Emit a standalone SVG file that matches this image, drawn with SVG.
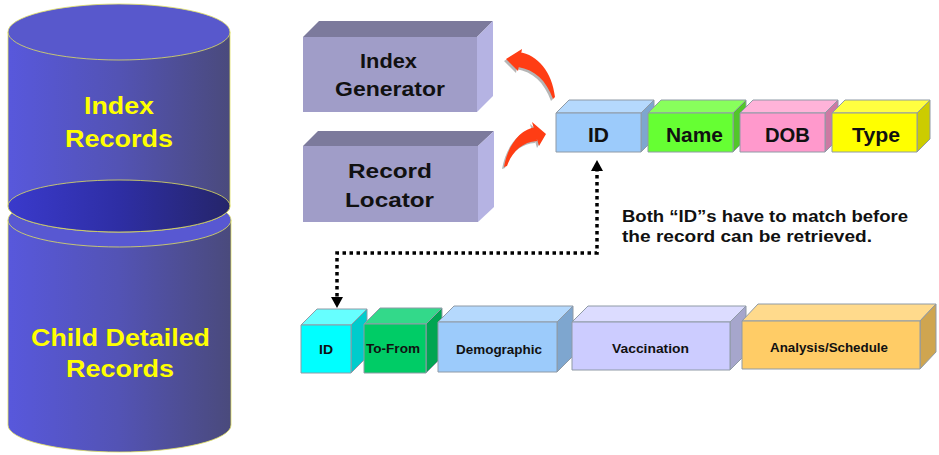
<svg xmlns="http://www.w3.org/2000/svg" width="939" height="455" viewBox="0 0 939 455">
<defs>
<linearGradient id="side" x1="0" y1="0" x2="1" y2="0">
<stop offset="0" stop-color="#5858dc"/>
<stop offset="0.5" stop-color="#5353b4"/>
<stop offset="1" stop-color="#4a4a7c"/>
</linearGradient>
<linearGradient id="dark" x1="0" y1="0" x2="1" y2="0">
<stop offset="0" stop-color="#3a3acc"/>
<stop offset="0.5" stop-color="#2e2ea4"/>
<stop offset="1" stop-color="#25256a"/>
</linearGradient>
</defs>
<style>
.cyl{stroke:#e0e060;stroke-width:0.8}
.ct{font-family:"Liberation Sans",Arial,sans-serif;font-weight:bold;font-size:24px;fill:#ffff00;text-anchor:middle}
.pf{fill:#a09dc8}
.pt{fill:#7c7a9c}
.pr{fill:#b5b3e3}
.bt{font-family:"Liberation Sans",Arial,sans-serif;font-weight:bold;font-size:21px;fill:#111;text-anchor:middle}
.st{font-family:"Liberation Sans",Arial,sans-serif;font-weight:bold;font-size:12px;fill:#111;text-anchor:middle}
.cb{stroke:#8f9aa6;stroke-width:1;stroke-linejoin:round}
.note{font-family:"Liberation Sans",Arial,sans-serif;font-weight:bold;font-size:16px;fill:#111}
.arr{fill:#ff3d14}
.sh{fill:#7a7a7a;opacity:0.55}
.dot{fill:none;stroke:#000;stroke-width:3.5;stroke-dasharray:3.5 3.5}
</style>

<g id="child-records">
<path class="cyl" d="M8,220 V425 A111.5,27 0 0 0 231,425 V220 Z" fill="url(#side)"/>
<ellipse class="cyl" cx="119.5" cy="220" rx="111.5" ry="27" fill="#5858d2"/>
<text class="ct" x="120.5" y="346" font-size="25" textLength="179" lengthAdjust="spacingAndGlyphs">Child Detailed</text>
<text class="ct" x="120" y="377" font-size="25" textLength="108" lengthAdjust="spacingAndGlyphs">Records</text>
</g>

<g id="index-records">
<path class="cyl" d="M8,32 V206 A111,26 0 0 0 230,206 V32 Z" fill="url(#side)"/>
<ellipse class="cyl" cx="119" cy="206" rx="111" ry="26" fill="url(#dark)"/>
<ellipse class="cyl" cx="119" cy="32" rx="111" ry="28" fill="#5858cc"/>
<text class="ct" x="119" y="114" textLength="70" lengthAdjust="spacingAndGlyphs">Index</text>
<text class="ct" x="119" y="147" textLength="108" lengthAdjust="spacingAndGlyphs">Records</text>
</g>

<g id="index-generator">
<polygon class="pt" points="303,37 319,21 493,21 477,37"/>
<polygon class="pr" points="477,37 493,21 493,96 477,112"/>
<rect class="pf" x="303" y="37" width="174" height="75"/>
<text class="bt" x="388.5" y="68" textLength="57" lengthAdjust="spacingAndGlyphs">Index</text>
<text class="bt" x="390" y="96" textLength="110" lengthAdjust="spacingAndGlyphs">Generator</text>
</g>

<g id="record-locator">
<polygon class="pt" points="303,146 318,131 494,131 478,146"/>
<polygon class="pr" points="478,146 494,131 494,207 478,222"/>
<rect class="pf" x="303" y="146" width="175" height="76"/>
<text class="bt" x="390" y="178" textLength="84" lengthAdjust="spacingAndGlyphs">Record</text>
<text class="bt" x="389.5" y="207" textLength="89" lengthAdjust="spacingAndGlyphs">Locator</text>
</g>

<g id="top-id">
<polygon class="cb" fill="#b5d9fd" points="556,113 569,100 654,100 641,113"/>
<polygon class="cb" fill="#7ea6cf" points="641,113 654,100 654,139 641,152"/>
<rect class="cb" fill="#9ccbfb" x="556" y="113" width="85" height="39"/>
<text class="bt" x="598.5" y="142" textLength="21" lengthAdjust="spacingAndGlyphs">ID</text>
</g>
<g id="top-name">
<polygon class="cb" fill="#88ff5c" points="648,113 661,100 746,100 733,113"/>
<polygon class="cb" fill="#52c62a" points="733,113 746,100 746,139 733,152"/>
<rect class="cb" fill="#66ff33" x="648" y="113" width="85" height="39"/>
<text class="bt" x="694.5" y="142" textLength="57" lengthAdjust="spacingAndGlyphs">Name</text>
</g>
<g id="top-dob">
<polygon class="cb" fill="#ffb3d9" points="740,113 753,100 838,100 825,113"/>
<polygon class="cb" fill="#cc7aa3" points="825,113 838,100 838,139 825,152"/>
<rect class="cb" fill="#ff99cc" x="740" y="113" width="85" height="39"/>
<text class="bt" x="787.5" y="142" textLength="45" lengthAdjust="spacingAndGlyphs">DOB</text>
</g>
<g id="top-type">
<polygon class="cb" fill="#ffff40" points="832,113 845,100 930,100 917,113"/>
<polygon class="cb" fill="#cccc00" points="917,113 930,100 930,139 917,152"/>
<rect class="cb" fill="#ffff00" x="832" y="113" width="85" height="39"/>
<text class="bt" x="876" y="142" textLength="48" lengthAdjust="spacingAndGlyphs">Type</text>
</g>

<g id="bottom-id">
<polygon class="cb" fill="#66ffff" points="301,325 317,309 367,309 351,325"/>
<polygon class="cb" fill="#00cccc" points="351,325 367,309 367,357 351,373"/>
<rect class="cb" fill="#00ffff" x="301" y="325" width="50" height="48"/>
<text class="st" x="326" y="354" font-size="13" textLength="14" lengthAdjust="spacingAndGlyphs">ID</text>
</g>
<g id="bottom-tofrom">
<polygon class="cb" fill="#33d98a" points="364,324 380,308 442,308 426,324"/>
<polygon class="cb" fill="#00a552" points="426,324 442,308 442,357 426,373"/>
<rect class="cb" fill="#00cc66" x="364" y="324" width="62" height="49"/>
<text class="st" x="393" y="353" font-size="13" textLength="54" lengthAdjust="spacingAndGlyphs">To-From</text>
</g>
<g id="bottom-demographic">
<polygon class="cb" fill="#b5d9fd" points="438,322 454,306 573,306 557,322"/>
<polygon class="cb" fill="#7ea6cf" points="557,322 573,306 573,356 557,372"/>
<rect class="cb" fill="#9ccbfb" x="438" y="322" width="119" height="50"/>
<text class="st" x="499" y="354" textLength="86" lengthAdjust="spacingAndGlyphs">Demographic</text>
</g>
<g id="bottom-vaccination">
<polygon class="cb" fill="#dcdcff" points="572,322 588,306 746,306 730,322"/>
<polygon class="cb" fill="#a6a6cc" points="730,322 746,306 746,354 730,370"/>
<rect class="cb" fill="#ccccff" x="572" y="322" width="158" height="48"/>
<text class="st" x="650.5" y="353" textLength="77" lengthAdjust="spacingAndGlyphs">Vaccination</text>
</g>
<g id="bottom-analysis">
<polygon class="cb" fill="#ffda8c" points="742,321 758,304 936,304 920,321"/>
<polygon class="cb" fill="#cfa550" points="920,321 936,304 936,352 920,369"/>
<rect class="cb" fill="#ffcc66" x="742" y="321" width="178" height="48"/>
<text class="st" x="829" y="352" textLength="118" lengthAdjust="spacingAndGlyphs">Analysis/Schedule</text>
</g>

<g id="note">
<text class="note" x="622" y="222" textLength="286" lengthAdjust="spacingAndGlyphs">Both “ID”s have to match before</text>
<text class="note" x="622" y="242" textLength="250" lengthAdjust="spacingAndGlyphs">the record can be retrieved.</text>
</g>

<g id="connectors">
<g transform="translate(-2,2)">
<path class="sh" d="M506,59 L522,49 L518,71 Z M519,52 C538,55 552,72 555,97 L553,99 C546,80 535,70 518,67 Z"/>
<path class="sh" d="M546,134 L532,122 L539,146 Z M536,127 C520,129 508,145 504,167 L507,166 C512,152 522,142 537,141 Z"/>
</g>
<path class="arr" d="M506,59 L522,49 L518,71 Z M519,52 C538,55 552,72 555,97 L553,99 C546,80 535,70 518,67 Z"/>
<path class="arr" d="M546,134 L532,122 L539,146 Z M536,127 C520,129 508,145 504,167 L507,166 C512,152 522,142 537,141 Z"/>
<path class="dot" d="M597,168 V253 H337 V300"/>
<path d="M597,160 L591,171 L603,171 Z" fill="#000"/>
<path d="M337,308 L331,297 L343,297 Z" fill="#000"/>
</g>
</svg>
